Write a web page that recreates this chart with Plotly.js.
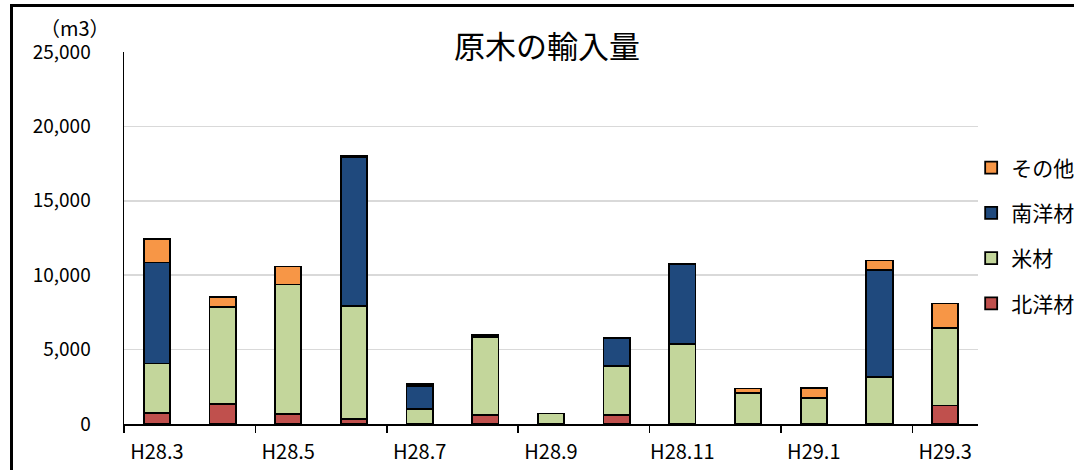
<!DOCTYPE html>
<html>
<head>
<meta charset="utf-8">
<script src="https://cdn.plot.ly/plotly-3.0.1.min.js"></script>
<style>
  html, body { margin: 0; padding: 0; background: #fff; overflow: hidden; }
  #wrap { position: relative; width: 1074px; height: 470px; overflow: hidden; }
  #chart { position: absolute; left: 0; top: 0; width: 1120px; height: 470px; }
  #frame { position: absolute; left: 10px; top: 4px; width: 1200px; height: 600px;
           border: 3px solid #000; pointer-events: none; }
</style>
</head>
<body>
<div id="wrap">
  <div id="chart"></div>
  <div id="frame"></div>
</div>
<script>
const months = ["H28.3","H28.4","H28.5","H28.6","H28.7","H28.8","H28.9","H28.10","H28.11","H28.12","H29.1","H29.2","H29.3"];
const hokuyo = [760, 1360, 650, 360, 0, 580, 0, 600, 0, 0, 0, 0, 1250];      // 北洋材
const beizai = [3310, 6520, 8730, 7570, 1030, 5270, 710, 3320, 5350, 2060, 1770, 3180, 5200]; // 米材
const nanyo  = [6790, 0, 0, 10010, 1520, 60, 0, 1860, 5420, 0, 0, 7190, 0];   // 南洋材
const sonota = [1590, 630, 1210, 110, 160, 50, 0, 0, 0, 330, 650, 620, 1650]; // その他

const series = [
  {name: "北洋材", y: hokuyo, color: "#C0504D", rank: 4},
  {name: "米材",   y: beizai, color: "#C3D69B", rank: 3},
  {name: "南洋材", y: nanyo,  color: "#1F497D", rank: 2},
  {name: "その他", y: sonota, color: "#F79646", rank: 1}
];

const font = "'Noto Sans CJK JP', 'Noto Sans', sans-serif";

const traces = series.map(s => ({
  type: "bar",
  name: s.name,
  x: months,
  y: s.y,
  legendgroup: s.name,
  legendrank: s.rank,
  marker: {color: s.color, line: {color: "#000", width: 1.8}},
  hoverinfo: "x+y+name"
}));

const layout = {
  width: 1120, height: 470,
  margin: {l: 124, r: 142, t: 52, b: 46},
  paper_bgcolor: "#fff", plot_bgcolor: "#fff",
  barmode: "stack",
  bargap: 0.6,
  font: {family: font, color: "#000", size: 19},
  title: {text: "原木の輸入量", font: {family: font, size: 31, color: "#000"},
          x: 547 / 1120, xref: "container", xanchor: "center",
          y: 1 - 47 / 470, yref: "container", yanchor: "middle"},
  xaxis: {
    type: "category",
    tickmode: "linear", dtick: 2, tick0: 0,
    tickson: "boundaries",
    tickangle: 0,
    ticks: "outside", ticklen: 7, tickcolor: "#000", tickwidth: 1.5,
    ticklabelstandoff: 9,
    showline: true, linecolor: "#000", linewidth: 1.5,
    showgrid: false,
    tickfont: {family: font, size: 20, color: "#000"}
  },
  yaxis: {
    range: [0, 25000],
    tickmode: "linear", tick0: 0, dtick: 5000,
    tickformat: ",d",
    showline: true, linecolor: "#000", linewidth: 1.5,
    showgrid: true, gridcolor: "#d9d9d9", gridwidth: 1.5,
    zeroline: false,
    ticks: "", ticklabelstandoff: 28,
    tickfont: {family: font, size: 19, color: "#000"}
  },
  legend: {
    x: 0.992, xanchor: "left", y: 0.7436, yanchor: "top",
    traceorder: "grouped",
    tracegroupgap: 15,
    font: {family: font, size: 21, color: "#000"},
    itemwidth: 30,
    bgcolor: "rgba(0,0,0,0)"
  },
  annotations: [{
    text: "（m3）", xref: "paper", yref: "paper",
    x: -12 / 854, y: 1 + 25 / 372, xanchor: "right", yanchor: "middle",
    showarrow: false, font: {family: font, size: 20, color: "#000"}
  }]
};

Plotly.newPlot("chart", traces, layout, {displayModeBar: false, staticPlot: true});
</script>
</body>
</html>
